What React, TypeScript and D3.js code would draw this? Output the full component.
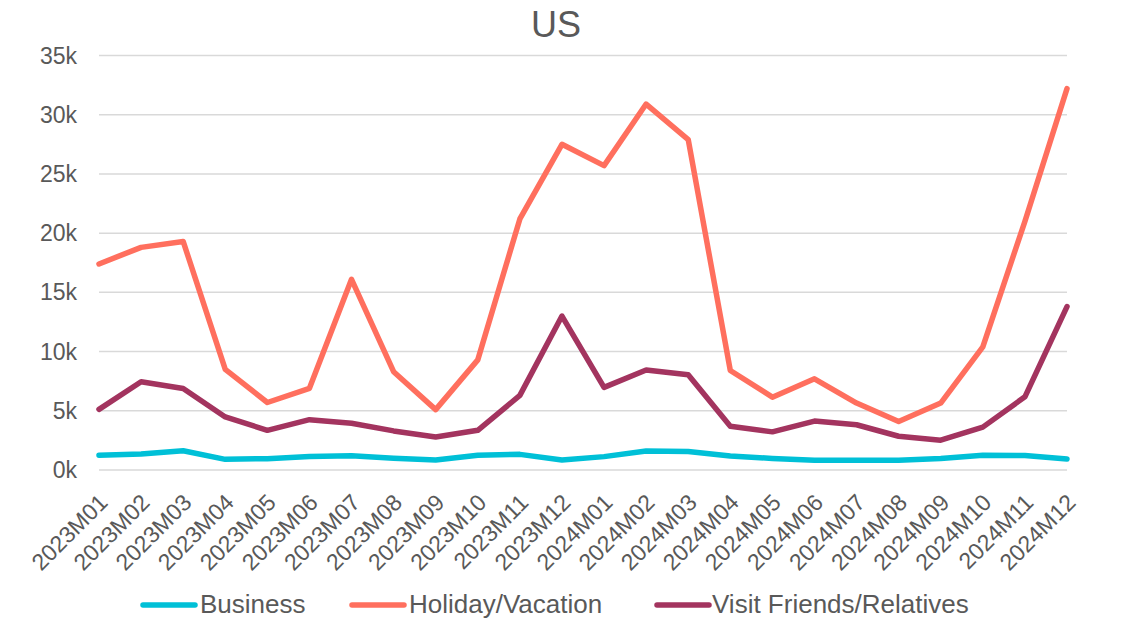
import React from "react";
import * as d3 from "d3";

const categories = [
  "2023M01","2023M02","2023M03","2023M04","2023M05","2023M06","2023M07","2023M08","2023M09","2023M10","2023M11","2023M12",
  "2024M01","2024M02","2024M03","2024M04","2024M05","2024M06","2024M07","2024M08","2024M09","2024M10","2024M11","2024M12",
];
const business = [1250,1350,1630,900,960,1130,1200,1000,840,1250,1320,840,1130,1600,1560,1180,980,820,820,820,980,1250,1230,930];
const holiday = [17400,18800,19300,8500,5700,6900,16100,8300,5100,9300,21200,27500,25700,30900,27900,8400,6150,7700,5650,4100,5650,10400,21000,32200];
const vfr = [5120,7450,6880,4480,3350,4250,3950,3300,2780,3350,6300,13000,6980,8450,8050,3700,3220,4130,3820,2850,2520,3620,6180,13800];
const yTicks = [0, 5000, 10000, 15000, 20000, 25000, 30000, 35000];

const series = [
  { name: "Business", values: business, color: "#00C0D7" },
  { name: "Holiday/Vacation", values: holiday, color: "#FF6F5E" },
  { name: "Visit Friends/Relatives", values: vfr, color: "#A3345F" },
];

const W = 1140, H = 622;
const FONT = "'Liberation Sans', Arial, sans-serif";
const TXT = "#595959";

export default function App() {
  const x = d3.scalePoint<string>().domain(categories).range([99, 1067]);
  const y = d3.scaleLinear().domain([0, 35000]).range([470, 55.5]);
  const line = d3.line<number>().x((_, i) => x(categories[i]) as number).y((d) => y(d));
  const legendPos = [
    { lx: 143, tx: 200 },
    { lx: 352, tx: 409 },
    { lx: 657, tx: 712 },
  ];
  return (
    <svg width={W} height={H} style={{ position: "absolute", left: 0, top: 0, background: "#fff" }} fontFamily={FONT}>
      <text x={556} y={37} textAnchor="middle" fontSize={36} fill={TXT}>US</text>
      {yTicks.map((t) => (
        <g key={t}>
          <line x1={99} x2={1067} y1={y(t)} y2={y(t)} stroke="#D9D9D9" strokeWidth={1.5} />
          <text x={77} y={y(t)} dy="0.35em" textAnchor="end" fontSize={23} fill={TXT}>{t / 1000}k</text>
        </g>
      ))}
      {categories.map((c) => {
        const px = (x(c) as number) + 10;
        const py = 504;
        return (
          <text key={c} x={px} y={py} textAnchor="end" fontSize={23} fill={TXT} transform={`rotate(-45 ${px} ${py})`}>{c}</text>
        );
      })}
      {series.map((s) => (
        <path key={s.name} d={line(s.values) || ""} fill="none" stroke={s.color} strokeWidth={5.5} strokeLinejoin="round" strokeLinecap="round" />
      ))}
      {series.map((s, i) => (
        <g key={s.name}>
          <line x1={legendPos[i].lx} x2={legendPos[i].lx + 52} y1={605} y2={605} stroke={s.color} strokeWidth={5.5} strokeLinecap="round" />
          <text x={legendPos[i].tx} y={613} fontSize={26} fill={TXT}>{s.name}</text>
        </g>
      ))}
    </svg>
  );
}
